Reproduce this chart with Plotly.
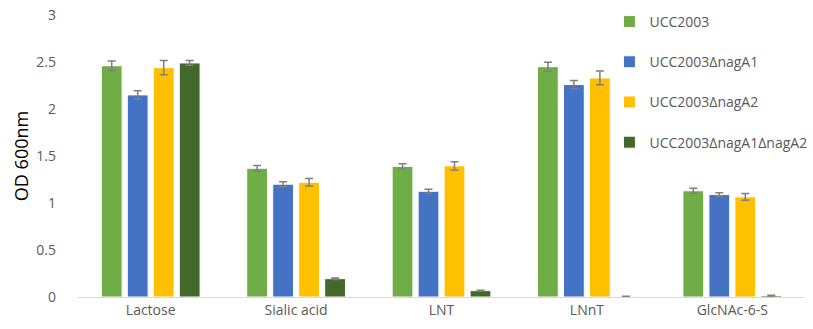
import plotly.graph_objects as go

categories = ["Lactose", "Sialic acid", "LNT", "LNnT", "GlcNAc-6-S"]
series_names = ["UCC2003", "UCC2003ΔnagA1", "UCC2003ΔnagA2", "UCC2003ΔnagA1ΔnagA2"]
wt = [2.46, 1.37, 1.39, 2.45, 1.13]
nagA1 = [2.15, 1.20, 1.125, 2.26, 1.09]
nagA2 = [2.44, 1.22, 1.395, 2.33, 1.065]
double = [2.49, 0.195, 0.068, 0.006, 0.015]
wt_err = [0.05, 0.03, 0.028, 0.048, 0.027]
nagA1_err = [0.045, 0.025, 0.02, 0.044, 0.02]
nagA2_err = [0.075, 0.04, 0.045, 0.073, 0.036]
double_err = [0.025, 0.008, 0.005, 0.003, 0.004]

colors = ["#70AD47", "#4472C4", "#FFC000", "#43682B"]
values = [wt, nagA1, nagA2, double]
errors = [wt_err, nagA1_err, nagA2_err, double_err]

fig = go.Figure()
for i, name in enumerate(series_names):
    fig.add_trace(go.Bar(
        x=categories, y=values[i], name=name, legendgroup=name,
        marker=dict(color=colors[i], line=dict(color="white", width=1)),
        error_y=dict(type="data", array=errors[i], visible=True,
                     color="#7f7f7f", thickness=1.5, width=4),
    ))

fig.update_layout(
    width=813, height=329,
    margin=dict(l=78, r=8, t=15, b=32, autoexpand=False),
    paper_bgcolor="white", plot_bgcolor="white",
    barmode="group", bargap=0.285, bargroupgap=0.2,
    font=dict(family="Open Sans", color="#595959", size=14),
    showlegend=True,
    legend=dict(x=0.731, y=1.032, xanchor="left", yanchor="top",
                font=dict(size=14, color="#595959"),
                tracegroupgap=19, bgcolor="rgba(0,0,0,0)"),
    xaxis=dict(showline=True, linecolor="#d9d9d9", linewidth=1, automargin=False,
               ticks="", tickfont=dict(size=14, color="#595959")),
    yaxis=dict(range=[0, 3], dtick=0.5, showgrid=False, zeroline=False, automargin=False,
               showline=False, tickfont=dict(size=14, color="#595959"),
               ticklabelstandoff=21,
               title=dict(text="OD 600nm", font=dict(size=18, color="black"), standoff=3)),
)

fig.write_html("out.html", config={"displayModeBar": False},
               post_script="document.body.style.margin='0';")
